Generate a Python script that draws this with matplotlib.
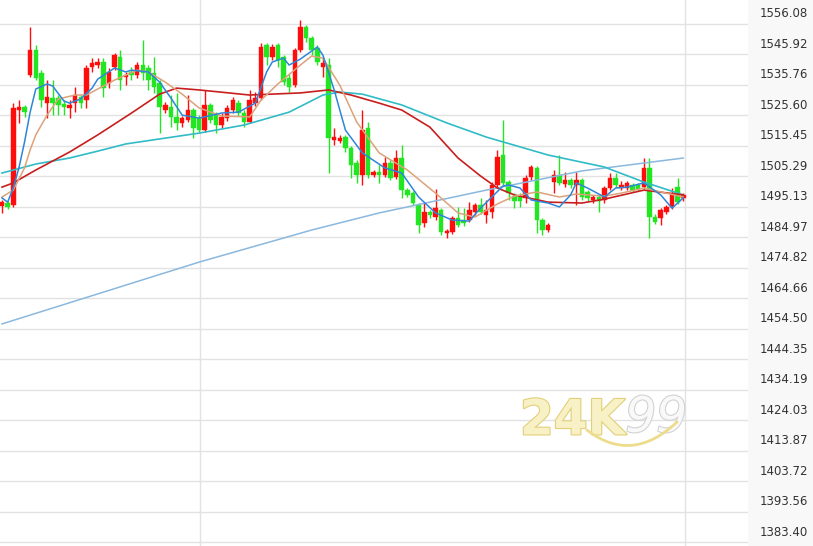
import numpy as np
import matplotlib.pyplot as plt
import matplotlib.patheffects as pe
from matplotlib.transforms import blended_transform_factory

# candle data, oldest first
opens = [1495.4, 1496.4, 1495.7, 1527.4, 1528.4, 1539.1, 1547.4, 1539.7, 1529.7, 1531.4,
         1531.4, 1529.4, 1528.1, 1529.7, 1531.7, 1530.7, 1541.7, 1542.4, 1543.4, 1536.4,
         1541.7, 1545.1, 1538.4, 1540.1, 1539.1, 1542.4, 1541.4, 1539.7, 1536.4, 1527.4,
         1528.4, 1525.1, 1523.1, 1524.1, 1527.4, 1524.7, 1520.7, 1529.1, 1525.7, 1522.4,
         1524.7, 1527.4, 1529.7, 1526.4, 1523.4, 1529.7, 1531.4, 1549.1, 1545.1, 1549.1,
         1545.1, 1538.1, 1535.7, 1547.4, 1555.1, 1551.4, 1548.1, 1541.7, 1542.4, 1517.4,
         1517.1, 1518.4, 1514.7, 1509.7, 1505.7, 1521.4, 1505.7, 1506.7, 1505.7, 1509.7,
         1505.1, 1511.4, 1500.7, 1499.7, 1495.7, 1489.7, 1493.4, 1491.7, 1494.1, 1486.4,
         1486.7, 1491.4, 1490.7, 1490.7, 1493.4, 1495.7, 1492.4, 1493.4, 1502.4, 1512.4,
         1503.4, 1498.7, 1498.7, 1498.1, 1505.1, 1508.1, 1490.7, 1487.4, 1503.4, 1505.7,
         1502.7, 1504.1, 1502.4, 1504.1, 1500.1, 1497.4, 1498.4, 1497.4, 1501.4, 1504.7,
         1501.4, 1501.4, 1502.4, 1502.4, 1501.7, 1508.1, 1491.7, 1491.4, 1493.4, 1495.1,
         1501.7, 1498.1]
closes = [1496.7, 1495.1, 1528.1, 1528.4, 1526.7, 1547.4, 1538.1, 1530.7, 1531.7, 1529.7,
          1529.1, 1528.4, 1529.1, 1532.4, 1529.7, 1541.4, 1543.1, 1543.4, 1534.7, 1540.1,
          1545.7, 1537.4, 1539.1, 1539.1, 1542.4, 1539.7, 1537.4, 1535.1, 1528.4, 1529.1,
          1525.1, 1523.1, 1524.7, 1527.4, 1521.4, 1520.7, 1529.1, 1524.1, 1522.4, 1525.1,
          1528.1, 1530.7, 1526.4, 1523.4, 1530.7, 1531.4, 1548.4, 1545.1, 1548.4, 1544.1,
          1536.7, 1535.1, 1547.4, 1555.1, 1551.4, 1547.4, 1543.4, 1543.1, 1518.1, 1518.4,
          1518.1, 1514.7, 1509.1, 1505.7, 1520.7, 1505.7, 1506.7, 1505.7, 1509.7, 1504.7,
          1511.4, 1500.7, 1499.1, 1496.4, 1489.1, 1493.4, 1492.4, 1494.7, 1486.7, 1487.1,
          1491.4, 1489.1, 1489.7, 1494.1, 1495.7, 1493.4, 1494.1, 1502.4, 1511.7, 1503.1,
          1499.7, 1497.1, 1497.1, 1504.7, 1508.4, 1490.7, 1487.4, 1489.1, 1505.7, 1503.1,
          1504.1, 1502.4, 1504.1, 1498.4, 1498.1, 1498.4, 1497.1, 1501.4, 1504.7, 1502.4,
          1502.4, 1503.1, 1500.7, 1501.1, 1508.1, 1491.7, 1490.1, 1494.1, 1495.1, 1499.1,
          1496.7, 1499.1]
highs = [1497.4, 1497.1, 1529.7, 1530.7, 1529.1, 1555.1, 1549.1, 1540.7, 1537.4, 1537.4,
         1532.4, 1530.7, 1530.7, 1535.1, 1532.4, 1542.4, 1544.7, 1544.7, 1544.7, 1541.4,
         1546.4, 1547.4, 1540.1, 1541.7, 1543.4, 1550.7, 1542.4, 1545.1, 1537.4, 1530.1,
         1532.4, 1533.1, 1525.4, 1532.4, 1528.1, 1525.7, 1534.1, 1529.7, 1526.7, 1526.4,
         1529.1, 1531.7, 1530.7, 1527.4, 1534.1, 1533.4, 1549.7, 1549.7, 1549.4, 1549.7,
         1545.7, 1539.4, 1548.1, 1557.4, 1555.7, 1552.1, 1549.1, 1544.7, 1544.7, 1521.4,
         1519.1, 1519.1, 1515.4, 1510.7, 1527.4, 1523.4, 1507.4, 1509.1, 1511.7, 1510.7,
         1514.1, 1515.7, 1501.4, 1500.4, 1496.4, 1496.4, 1494.1, 1501.1, 1494.7, 1487.7,
         1492.1, 1495.1, 1494.7, 1496.7, 1496.4, 1498.1, 1497.4, 1503.4, 1514.1, 1524.1,
         1504.1, 1499.7, 1499.7, 1505.7, 1509.1, 1508.7, 1491.4, 1489.7, 1507.4, 1512.4,
         1506.7, 1504.7, 1506.7, 1504.7, 1500.7, 1499.1, 1499.1, 1502.1, 1506.4, 1506.4,
         1503.7, 1503.7, 1503.1, 1503.1, 1511.4, 1511.4, 1492.7, 1494.7, 1495.7, 1501.4,
         1504.7, 1499.7]
lows = [1493.1, 1494.4, 1495.1, 1523.1, 1525.1, 1538.4, 1537.4, 1528.4, 1524.7, 1525.7,
        1525.7, 1525.7, 1524.7, 1526.7, 1528.1, 1528.1, 1540.1, 1541.4, 1531.7, 1534.7,
        1540.7, 1534.1, 1535.7, 1537.4, 1538.1, 1537.4, 1534.1, 1533.1, 1519.7, 1526.4,
        1521.7, 1520.7, 1521.7, 1523.4, 1518.1, 1520.1, 1520.1, 1523.1, 1519.7, 1521.4,
        1523.7, 1526.4, 1525.4, 1521.7, 1523.1, 1528.7, 1530.7, 1542.4, 1544.1, 1541.7,
        1535.7, 1533.4, 1535.1, 1546.7, 1550.1, 1545.7, 1542.4, 1538.4, 1506.4, 1515.7,
        1516.4, 1513.4, 1504.7, 1503.1, 1502.4, 1504.7, 1505.1, 1503.1, 1505.1, 1504.1,
        1504.4, 1498.1, 1498.4, 1495.7, 1486.4, 1488.4, 1491.4, 1490.7, 1485.7, 1484.7,
        1486.1, 1488.4, 1488.7, 1490.1, 1492.4, 1492.7, 1489.7, 1491.4, 1501.7, 1502.1,
        1497.4, 1494.7, 1495.1, 1496.4, 1504.1, 1486.4, 1485.7, 1486.7, 1499.7, 1502.4,
        1501.7, 1501.4, 1495.7, 1497.4, 1497.1, 1496.4, 1493.4, 1496.4, 1500.7, 1501.4,
        1500.7, 1500.7, 1500.1, 1500.4, 1501.1, 1484.7, 1489.4, 1489.1, 1492.7, 1494.4,
        1496.1, 1497.1]

# moving average lines, sampled at candle numbers
ma5_i = [0, 1, 2, 3, 4, 5, 6, 8, 9, 11, 12, 14, 16, 17, 20, 22, 23, 26, 28, 30, 32, 35, 39, 42,
         45, 47, 48, 50, 51, 53, 56, 57, 59, 61, 64, 68, 71, 74, 77, 80, 83, 85, 87, 89, 90, 92,
         94, 97, 99, 101, 102, 104, 107, 109, 111, 114, 117, 119, 121]
ma5_v = [1498.1, 1496.7, 1501.4, 1508.1, 1516.7, 1526.7, 1534.4, 1536.1, 1535.4, 1530.4,
         1529.7, 1531.1, 1534.7, 1537.7, 1541.4, 1540.1, 1540.7, 1540.1, 1536.7, 1531.4,
         1525.7, 1524.7, 1526.4, 1526.7, 1529.7, 1540.1, 1543.4, 1544.7, 1542.4, 1544.4,
         1548.4, 1545.7, 1534.1, 1520.7, 1513.1, 1508.1, 1506.4, 1498.4, 1493.1, 1490.7,
         1490.4, 1494.7, 1498.4, 1502.1, 1502.4, 1501.4, 1497.4, 1496.4, 1495.1, 1499.1,
         1503.1, 1501.4, 1498.4, 1501.4, 1501.7, 1503.1, 1499.1, 1494.7, 1498.1]
ma10_i = [0, 2, 4, 5, 6, 8, 10, 13, 15, 17, 20, 24, 26, 29, 32, 35, 39, 44, 46, 49, 53, 55, 57,
          60, 63, 67, 72, 77, 81, 84, 88, 91, 95, 99, 102, 107, 110, 114, 121]
ma10_v = [1498.4, 1500.7, 1508.1, 1514.1, 1519.1, 1525.7, 1531.1, 1532.4, 1532.4, 1534.4,
          1537.4, 1540.7, 1540.1, 1536.7, 1532.7, 1528.1, 1525.4, 1525.1, 1530.7, 1536.1,
          1542.4, 1545.4, 1544.7, 1535.7, 1523.4, 1513.1, 1507.4, 1499.7, 1493.1, 1491.7,
          1496.1, 1498.7, 1500.1, 1498.4, 1499.4, 1498.7, 1499.7, 1501.4, 1498.4]
ma30_i = [0, 2, 6, 12, 17, 23, 28, 31, 35, 44, 53, 58, 62, 67, 71, 76, 81, 85, 88, 91, 97,
          103, 107, 114, 121]
ma30_v = [1501.7, 1503.1, 1507.4, 1513.4, 1519.1, 1526.4, 1532.7, 1534.7, 1534.1, 1532.4,
          1533.1, 1534.1, 1532.4, 1529.7, 1527.4, 1521.7, 1511.4, 1505.4, 1501.4, 1499.1,
          1496.7, 1496.4, 1497.7, 1500.7, 1499.1]
ma60_i = [0, 6, 12, 17, 22, 35, 43, 51, 57, 60, 64, 71, 79, 86, 97, 107, 114, 121]
ma60_v = [1506.4, 1509.4, 1511.4, 1513.7, 1516.1, 1519.7, 1522.4, 1526.7, 1532.4, 1533.4,
          1532.7, 1529.1, 1523.1, 1518.4, 1512.4, 1508.4, 1503.4, 1499.1]
ma250_i = [0, 17, 35, 55, 67, 86, 103, 121]
ma250_v = [1456.1, 1466.1, 1476.7, 1487.4, 1493.1, 1500.7, 1507.1, 1511.4]

price_ticks = [1556.08, 1545.92, 1535.76, 1525.60, 1515.45, 1505.29, 1495.13, 1484.97, 1474.82,
               1464.66, 1454.50, 1444.35, 1434.19, 1424.03, 1413.87, 1403.72, 1393.56, 1383.40]
day_breaks = [35.2, 121.3]

up_col = '#ff0d0d'
down_col = '#22e622'

fig = plt.figure(figsize=(8.13, 5.46), dpi=100)
fig.patch.set_facecolor('#f8f8f8')
ax = fig.add_axes([0, 0, 748 / 813, 1])
ax.set_facecolor('white')

o = np.array(opens)
c = np.array(closes)
h = np.array(highs)
l = np.array(lows)
x = np.arange(len(o))
cols = np.where(c >= o, up_col, down_col)

ax.vlines(x, l, h, colors=cols, lw=1, zorder=2)
ax.bar(x, np.maximum(np.abs(c - o), 0.4), bottom=np.minimum(o, c), width=0.8,
       color=cols, edgecolor=cols, lw=0.3, zorder=3)

ax.plot(ma250_i, ma250_v, color='#8ab8de', lw=1.1, zorder=4)
ax.plot(ma60_i, ma60_v, color='#30bcc6', lw=1.2, zorder=4)
ax.plot(ma30_i, ma30_v, color='#c81e1e', lw=1.2, zorder=4)
ax.plot(ma10_i, ma10_v, color='#dca27a', lw=1.1, zorder=4)
ax.plot(ma5_i, ma5_v, color='#2e86d8', lw=1.1, zorder=5)

for v in price_ticks:
    ax.axhline(v, color='#e2e2e2', lw=1, zorder=0)
for d in day_breaks:
    ax.axvline(d, color='#e2e2e2', lw=1, zorder=0)

ax.set_xlim(-0.355, 132.5)
ax.set_ylim(1382.07, 1564.08)
ax.set_xticks([])
ax.set_yticks([])
for s in ax.spines.values():
    s.set_visible(False)

tr = blended_transform_factory(ax.transAxes, ax.transData)
for v in price_ticks:
    ax.annotate(f'{v:.2f}', xy=(1, v), xycoords=tr, xytext=(12, 10),
                textcoords='offset pixels', ha='left', va='center',
                fontsize=8.5, color='#333333', annotation_clip=False)

# watermark
ax.text(0.836, 0.23, '24K', transform=ax.transAxes, ha='right', va='center',
        fontsize=35, fontweight='bold', color='#f8f1c6', zorder=1,
        path_effects=[pe.withStroke(linewidth=1.6, foreground='#e2cf78')])
ax.text(0.836, 0.235, '99', transform=ax.transAxes, ha='left', va='center',
        fontsize=35, style='italic', color='#f9f9f9', zorder=1,
        path_effects=[pe.withStroke(linewidth=1.6, foreground='#d2d2d2')])
t = np.linspace(0, 1, 30)
sx = 0.785 + t * 0.12
sy = 0.212 - 0.07 * t * (1 - t) * 2 + 0.015 * t
ax.plot(sx, sy, transform=ax.transAxes, color='#ecdc8c', lw=2, zorder=1)

fig.savefig('out.png', dpi=100, facecolor=fig.get_facecolor())
